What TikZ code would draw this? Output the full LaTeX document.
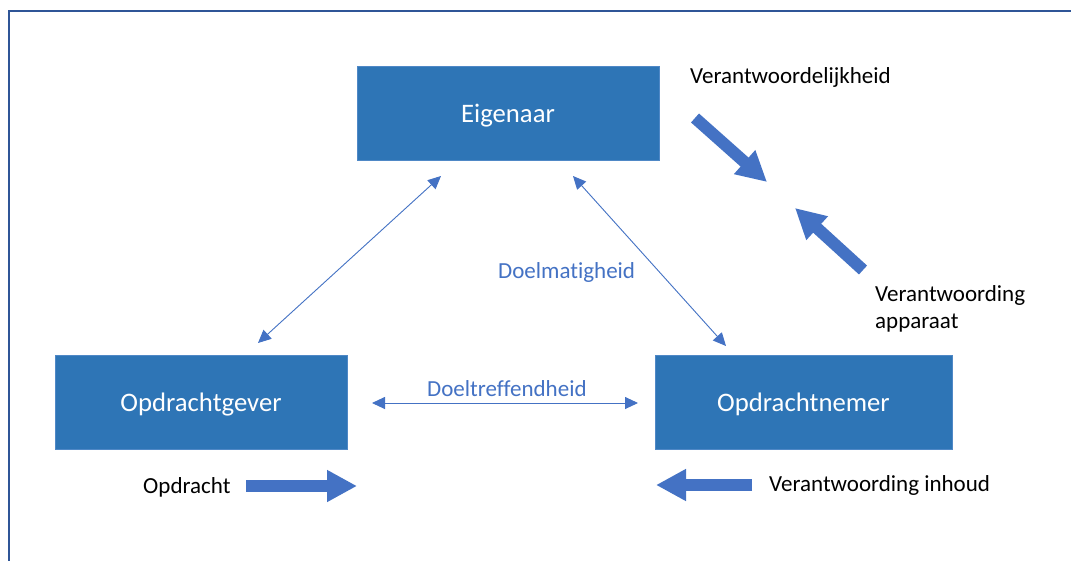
\documentclass[tikz,border=0pt]{standalone}
\usepackage{fontspec}
\setmainfont{Carlito}[Ligatures={NoCommon}]
\usetikzlibrary{arrows.meta}
\definecolor{boxfill}{HTML}{2E75B6}
\definecolor{boxline}{HTML}{4F88C6}
\definecolor{linkblue}{HTML}{4472C4}
\definecolor{framecol}{HTML}{2F5597}
\tikzset{
  rolebox/.style={draw=boxline, line width=0.8pt, fill=boxfill, text=white,
    minimum width=302pt, minimum height=94pt, inner sep=0pt,
    text height=19pt, text depth=0pt,
    font=\fontsize{26.7}{30}\selectfont},
  lbl/.style={inner sep=0pt, font=\fontsize{23}{27}\selectfont, text=black},
  bluelbl/.style={lbl, text=linkblue},
  link/.style={draw=linkblue, line width=0.9pt, {Triangle[length=13pt,width=12pt]}-{Triangle[length=13pt,width=12pt]}},
  blockarrow/.style={draw=linkblue, line width=12pt, -{Triangle[length=30pt,width=30pt]}}
}
\begin{document}
\begin{tikzpicture}[x=1pt,y=-1pt]
\clip (0,0) rectangle (1071,560);
\fill[white] (0,0) rectangle (1071,560);
\draw[framecol, line width=2.5pt] (1080,11) -- (9,11) -- (9,570);

\node[rolebox] (eig) at (508,113) {Eigenaar};
\node[rolebox, minimum width=292pt] (gev) at (201,402) {Opdrachtgever};
\node[rolebox, minimum width=297pt] (nem) at (803.5,402) {Opdrachtnemer};

% thin connectors
\coordinate (a1) at (258,343);
\coordinate (a2) at (441,176);
\coordinate (b1) at (573,176);
\coordinate (b2) at (726,346);
\coordinate (c1) at (372,403);
\coordinate (c2) at (638,403);
\draw[link] (a1) -- (a2);
\draw[link] (b1) -- (b2);
\draw[link] (c1) -- (c2);

\node[bluelbl, anchor=west] (dm) at (498,272) {Doelmatigheid};
\node[bluelbl, anchor=west] (dt) at (427,389) {Doeltreffendheid};

% labels
\node[lbl, anchor=west] (vl) at (690,77) {Verantwoordelijkheid};
\node[lbl, anchor=north west, align=left] (va) at (875,285) {Verantwoording\\apparaat};
\node[lbl, anchor=west] (op) at (143,487) {Opdracht};
\node[lbl, anchor=west] (vi) at (769,485) {Verantwoording inhoud};

% block arrows
\coordinate (p1) at (246,486);
\coordinate (p2) at (357,486);
\draw[blockarrow] (p1) -- (p2);
\coordinate (q1) at (752,485);
\coordinate (q2) at (656,485);
\draw[blockarrow] (q1) -- (q2);
\coordinate (r1) at (695,118);
\coordinate (r2) at (767,182);
\draw[blockarrow] (r1) -- (r2);
\coordinate (s1) at (863,270);
\coordinate (s2) at (795,208);
\draw[blockarrow] (s1) -- (s2);
\end{tikzpicture}
\end{document}
